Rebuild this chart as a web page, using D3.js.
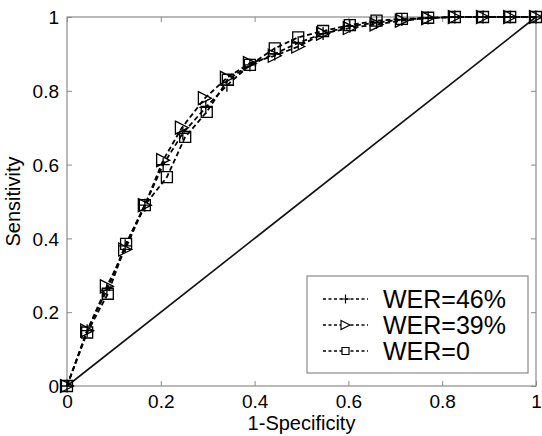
<!DOCTYPE html>
<html><head><meta charset="utf-8">
<script src="https://cdn.jsdelivr.net/npm/d3@7"></script>
<style>body{margin:0;background:#fff}svg{display:block;font-family:"Liberation Sans",Arial,Helvetica,sans-serif}</style>
</head><body><svg id="c" width="542" height="436"></svg>
<script>
const xTicks = [0, 0.2, 0.4, 0.6, 0.8, 1];
const yTicks = [0, 0.2, 0.4, 0.6, 0.8, 1];
const xLabel = "1-Specificity";
const yLabel = "Sensitivity";
const seriesNames = ["WER=46%", "WER=39%", "WER=0"];
const fpr46 = [0, 0.043, 0.085, 0.124, 0.166, 0.205, 0.247, 0.296, 0.341, 0.39, 0.443, 0.493, 0.546, 0.603, 0.66, 0.714, 0.77, 0.827, 0.887, 0.945, 1];
const tpr46 = [0, 0.15, 0.26, 0.38, 0.49, 0.6, 0.685, 0.755, 0.815, 0.87, 0.9, 0.93, 0.955, 0.975, 0.985, 0.993, 0.997, 1, 1, 1, 1];
const fpr39 = [0, 0.043, 0.085, 0.124, 0.166, 0.205, 0.245, 0.294, 0.341, 0.39, 0.443, 0.493, 0.546, 0.603, 0.66, 0.714, 0.77, 0.827, 0.887, 0.945, 1];
const tpr39 = [0, 0.15, 0.27, 0.37, 0.49, 0.612, 0.7, 0.78, 0.835, 0.875, 0.895, 0.92, 0.955, 0.97, 0.98, 0.99, 0.997, 1, 1, 1, 1];
const fpr0  = [0, 0.043, 0.087, 0.126, 0.166, 0.213, 0.252, 0.298, 0.343, 0.39, 0.443, 0.493, 0.546, 0.603, 0.66, 0.714, 0.77, 0.827, 0.887, 0.945, 1];
const tpr0  = [0, 0.145, 0.25, 0.385, 0.49, 0.566, 0.675, 0.743, 0.83, 0.87, 0.915, 0.945, 0.962, 0.978, 0.99, 0.995, 0.998, 1, 1, 1, 1];
const markerTypes = ["plus", "triangle", "square"];

const svg = d3.select("#c");
const L = 67, R = 536, T = 17, B = 386;
const x = d3.scaleLinear().domain([0, 1]).range([L, R]);
const y = d3.scaleLinear().domain([0, 1]).range([B, T]);
const axisColor = "#8a8a8a";

// frame
svg.append("rect").attr("x", L).attr("y", T).attr("width", R - L).attr("height", B - T)
  .attr("fill", "none").attr("stroke", axisColor).attr("stroke-width", 1.2);

// axes (inward ticks)
const fs = "19px";
const ax = svg.append("g").attr("transform", `translate(0,${B})`)
  .call(d3.axisBottom(x).tickValues(xTicks).tickFormat(d3.format("~g")).tickSizeInner(-5).tickSizeOuter(0).tickPadding(9));
const axT = svg.append("g").attr("transform", `translate(0,${T})`)
  .call(d3.axisTop(x).tickValues(xTicks).tickFormat("").tickSizeInner(-5).tickSizeOuter(0));
const ay = svg.append("g").attr("transform", `translate(${L},0)`)
  .call(d3.axisLeft(y).tickValues(yTicks).tickFormat(d3.format("~g")).tickSizeInner(-5).tickSizeOuter(0).tickPadding(8));
const ayR = svg.append("g").attr("transform", `translate(${R},0)`)
  .call(d3.axisRight(y).tickValues(yTicks).tickFormat("").tickSizeInner(-5).tickSizeOuter(0));
[ax, axT, ay, ayR].forEach(g => {
  g.select(".domain").remove();
  g.selectAll(".tick line").attr("stroke", axisColor);
  g.selectAll("text").attr("fill", "#000").style("font-size", fs).style("font-family", "Liberation Sans, Arial, sans-serif");
});
ay.selectAll("text").attr("dy", "0.35em");

// axis labels
svg.append("text").attr("x", (L + R) / 2).attr("y", 430).attr("text-anchor", "middle")
  .style("font-size", "20px").text(xLabel);
svg.append("text").attr("transform", `translate(20,${(T + B) / 2}) rotate(-90)`).attr("text-anchor", "middle")
  .style("font-size", "20px").text(yLabel);

// diagonal
svg.append("line").attr("x1", x(0)).attr("y1", y(0)).attr("x2", x(1)).attr("y2", y(1))
  .attr("stroke", "#111").attr("stroke-width", 1.6);

function markerPath(type, cx, cy, s) {
  const h = s / 2;
  if (type === "plus") return `M${cx - h},${cy}H${cx + h}M${cx},${cy - h}V${cy + h}`;
  if (type === "square") return `M${cx - h},${cy - h}H${cx + h}V${cy + h}H${cx - h}Z`;
  return `M${cx - h},${cy - h}L${cx + h},${cy}L${cx - h},${cy + h}Z`;
}

const series = [
  {fx: fpr46, ty: tpr46, m: markerTypes[0], size: 13},
  {fx: fpr39, ty: tpr39, m: markerTypes[1], size: 13},
  {fx: fpr0, ty: tpr0, m: markerTypes[2], size: 11}
];
const line = d3.line().x(d => x(d[0])).y(d => y(d[1]));
series.forEach(s => {
  const pts = s.fx.map((v, i) => [v, s.ty[i]]);
  svg.append("path").attr("d", line(pts)).attr("fill", "none").attr("stroke", "#000")
    .attr("stroke-width", 1.8).attr("stroke-dasharray", "5,3");
});
series.forEach(s => {
  const pts = s.fx.map((v, i) => [v, s.ty[i]]);
  svg.append("g").selectAll("path").data(pts).join("path")
    .attr("d", d => markerPath(s.m, x(d[0]), y(d[1]), s.size))
    .attr("fill", "none").attr("stroke", "#000").attr("stroke-width", 1.3);
});

// legend
const lg = svg.append("g");
lg.append("rect").attr("x", 307).attr("y", 276).attr("width", 221).attr("height", 97)
  .attr("fill", "#fff").attr("stroke", axisColor).attr("stroke-width", 1.2);
seriesNames.forEach((name, i) => {
  const cy = 299 + i * 26;
  lg.append("line").attr("x1", 323).attr("x2", 368).attr("y1", cy).attr("y2", cy)
    .attr("stroke", "#000").attr("stroke-width", 1.3).attr("stroke-dasharray", "3,2.5");
  lg.append("path").attr("d", markerPath(markerTypes[i], 345.5, cy, i === 2 ? 7 : 9))
    .attr("fill", "#fff").attr("stroke", "#000").attr("stroke-width", 1.2);
  lg.append("text").attr("x", 383).attr("y", cy).attr("dy", "0.36em")
    .style("font-size", "25px").text(name);
});
</script></body></html>
